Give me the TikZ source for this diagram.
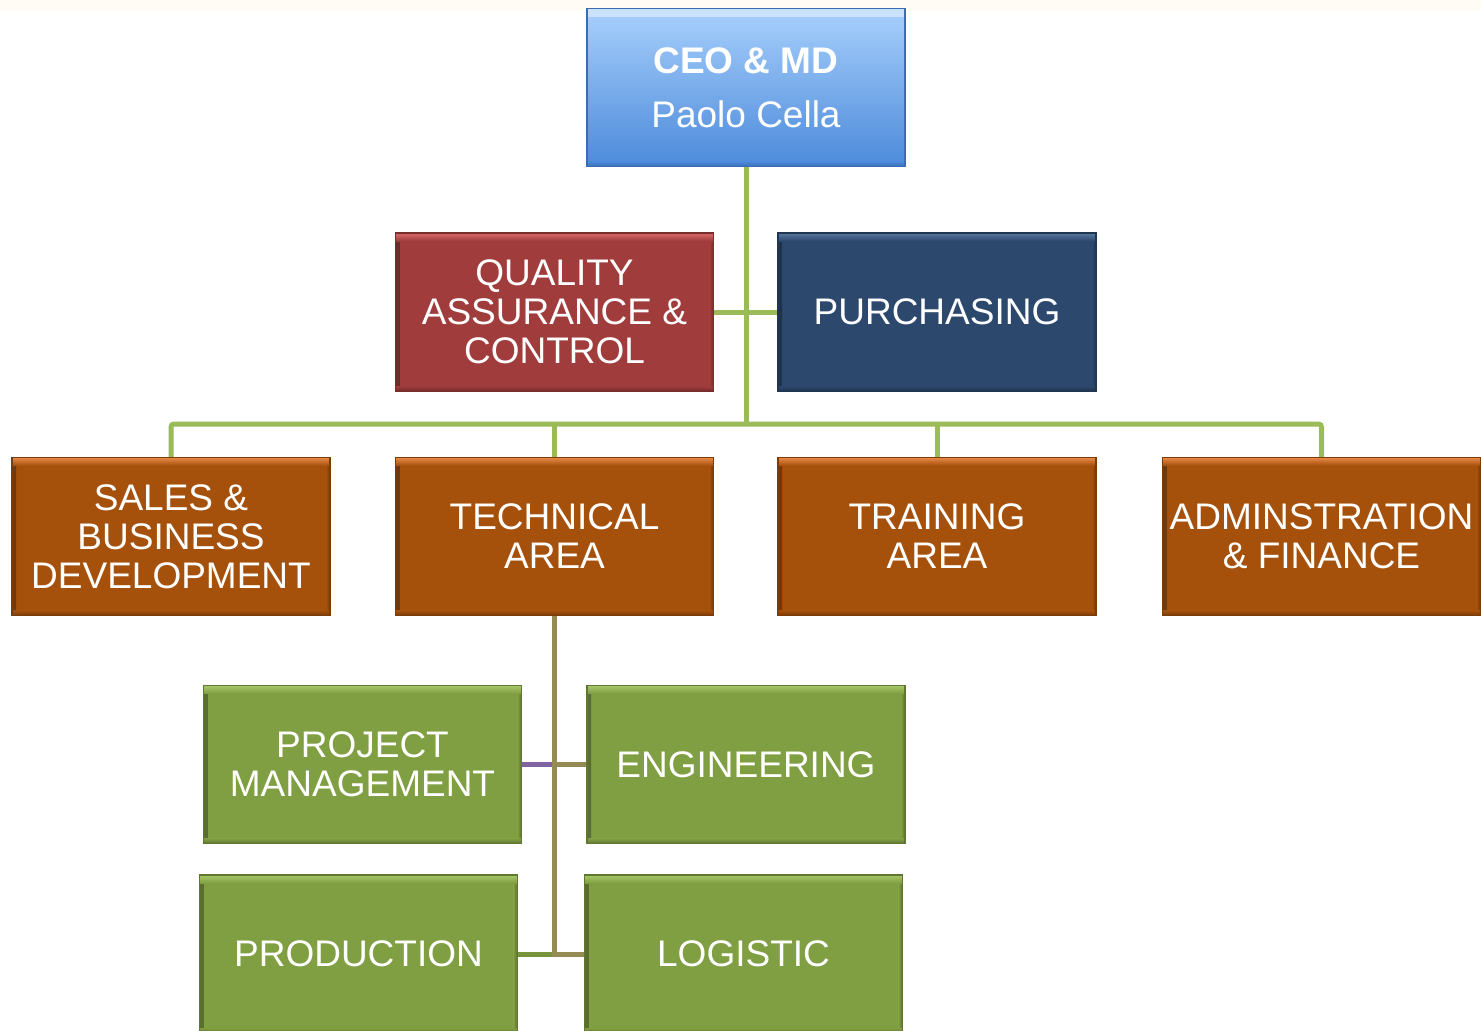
\documentclass[tikz,border=0pt]{standalone}
\usepackage{fontspec}
\setmainfont{Liberation Sans}
\definecolor{ceoT}{HTML}{A8D0FC}
\definecolor{ceoB}{HTML}{4C8ADA}
\definecolor{ceoE}{HTML}{3A6DB8}
\definecolor{qaC}{HTML}{A13C3C}
\definecolor{qaL}{HTML}{D86A68}
\definecolor{puC}{HTML}{2C486D}
\definecolor{puL}{HTML}{5878A0}
\definecolor{orC}{HTML}{A5500B}
\definecolor{orL}{HTML}{E88A48}
\definecolor{grC}{HTML}{809E42}
\definecolor{grL}{HTML}{A8C868}
\definecolor{lineG}{HTML}{9BBB59}
\definecolor{lineO}{HTML}{948A54}
\definecolor{lineP}{HTML}{8064A2}
\definecolor{lineG2}{HTML}{77933C}
\tikzset{
  box/.style={minimum width=318pt,minimum height=158pt,inner sep=0pt,align=center,
    text=white,font=\fontsize{37}{39}\selectfont},
  bevel/.style 2 args={box,fill=#1,draw=#1!75!black,line width=1.2pt,
    path picture={
      \fill[left color=#1!70!black,right color=#1] (path picture bounding box.south west) rectangle ([xshift=4pt]path picture bounding box.north west);
      \fill[right color=#1!70!black,left color=#1] (path picture bounding box.south east) rectangle ([xshift=-4pt]path picture bounding box.north east);
      \fill[top color=#2,bottom color=#1] (path picture bounding box.north west) rectangle ([yshift=-8pt]path picture bounding box.north east);
      \fill[bottom color=#1!75!black,top color=#1] (path picture bounding box.south west) rectangle ([yshift=5pt]path picture bounding box.south east);
    }},
  ceobox/.style={box,top color=ceoT,bottom color=ceoB,draw=ceoE,line width=1.2pt,
    path picture={
      \fill[top color=white!40!ceoT,bottom color=ceoT] (path picture bounding box.north west) rectangle ([yshift=-8pt]path picture bounding box.north east);
      \fill[bottom color=ceoE,top color=ceoB] (path picture bounding box.south west) rectangle ([yshift=5pt]path picture bounding box.south east);
    }},
  gl/.style={draw=lineG,line width=5pt},
  ol/.style={draw=lineO,line width=5pt},
  pl/.style={draw=lineP,line width=5pt},
  g2/.style={draw=lineG2,line width=5pt},
}
\begin{document}
\begin{tikzpicture}[x=1pt,y=-1pt]
\useasboundingbox (0,0) rectangle (1481,1031);
\fill[white] (0,0) rectangle (1481,1031);
\fill[color={rgb,255:red,255;green,252;blue,245}] (0,0) rectangle (1481,11);
% nodes
\node[ceobox] (ceo) at (746,87.5) {\textbf{CEO \& MD}\\[15pt]Paolo Cella};
\node[bevel={qaC}{qaL}] (qa) at (554.5,312) {QUALITY\\ASSURANCE \&\\CONTROL};
\node[bevel={puC}{puL}] (pur) at (937,312) {PURCHASING};
\node[bevel={orC}{orL}] (sales) at (171,536.5) {SALES \&\\BUSINESS\\DEVELOPMENT};
\node[bevel={orC}{orL}] (tech) at (554.5,536.5) {TECHNICAL\\AREA};
\node[bevel={orC}{orL}] (train) at (937,536.5) {TRAINING\\AREA};
\node[bevel={orC}{orL}] (admin) at (1321.5,536.5) {ADMINSTRATION\\\& FINANCE};
\node[bevel={grC}{grL}] (pm) at (362.5,764.5) {PROJECT\\MANAGEMENT};
\node[bevel={grC}{grL}] (eng) at (746,764.5) {ENGINEERING};
\node[bevel={grC}{grL}] (prod) at (358.5,954) {PRODUCTION};
\node[bevel={grC}{grL}] (log) at (743.5,954) {LOGISTIC};
\coordinate (bar) at (746,424);
% green connectors
\draw[gl] (ceo.south) -- (bar);
\draw[gl] (qa.east) -- (pur.west);
\draw[gl,rounded corners=3pt] (sales.north) |- (bar) -| (admin.north);
\draw[gl] (tech.north) -- (tech.north |- bar);
\draw[gl] (train.north) -- (train.north |- bar);
% technical area connectors
\draw[ol] (tech.south) |- (log.west);
\draw[ol] (tech.south |- eng.west) -- (eng.west);
\draw[pl] (pm.east) -- ([xshift=-2.5pt]tech.south |- pm.east);
\draw[g2] (prod.east) -- ([xshift=-2.5pt]tech.south |- prod.east);
\end{tikzpicture}
\end{document}
